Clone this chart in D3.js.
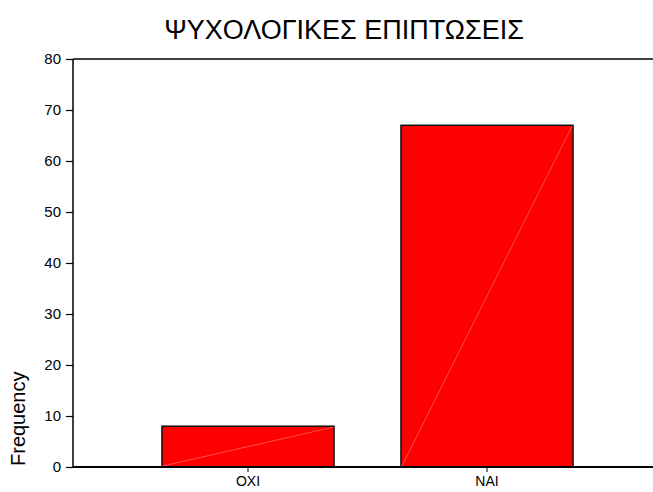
<!DOCTYPE html>
<html><head><meta charset="utf-8">
<script src="https://cdn.jsdelivr.net/npm/d3@7"></script>
<style>body{margin:0;background:#fff}svg{display:block}text{font-family:"Liberation Sans",Arial,sans-serif}</style>
</head><body>
<script>
const title = "ΨΥΧΟΛΟΓΙΚΕΣ ΕΠΙΠΤΩΣΕΙΣ";
const categories = ["OXI", "NAI"];
const values = [8, 67];
const yTicks = [0, 10, 20, 30, 40, 50, 60, 70, 80];
const yLabel = "Frequency";

const W = 653, H = 492;
const svg = d3.select("body").append("svg").attr("width", W).attr("height", H);
const pLeft = 73, pRight = 653, pTop = 59, pBottom = 467;

const y = d3.scaleLinear().domain([0, 80]).range([pBottom, pTop]);
const x = d3.scaleBand().domain(categories).range([128.5, 606.5]).paddingInner(0.28).paddingOuter(0.14);

svg.append("text").attr("x", 344).attr("y", 39).attr("text-anchor", "middle")
  .style("font-size", "27px").text(title);

// bars
const g = svg.append("g");
categories.forEach((c, i) => {
  const x0 = x(c), x1 = x(c) + x.bandwidth(), y0 = y(0), y1 = y(values[i]);
  g.append("rect").attr("x", x0).attr("y", y1).attr("width", x1 - x0).attr("height", y0 - y1)
    .attr("fill", "#ff0000").attr("stroke", "#111").attr("stroke-width", 1.5);
  g.append("line").attr("x1", x0 + 1).attr("y1", y0 - 1).attr("x2", x1 - 1).attr("y2", y1 + 1)
    .attr("stroke", "#ff7070").attr("stroke-width", 0.7);
});

// top frame line
svg.append("line").attr("x1", pLeft).attr("x2", pRight).attr("y1", pTop).attr("y2", pTop)
  .attr("stroke", "#000").attr("stroke-width", 1.5);

// y axis
const yAxis = svg.append("g").attr("transform", `translate(${pLeft},0)`)
  .call(d3.axisLeft(y).tickValues(yTicks).tickSize(7).tickPadding(5));
yAxis.select(".domain").attr("stroke", "#000").attr("stroke-width", 1.5).attr("d", `M0,${pTop}V${pBottom}`);
yAxis.selectAll(".tick line").attr("stroke", "#000").attr("stroke-width", 1.2);
yAxis.selectAll(".tick text").attr("fill", "#000").style("font-size", "15px")
  .style("font-family", "Liberation Sans, Arial, sans-serif");

// x axis
const xAxis = svg.append("g").attr("transform", `translate(0,${pBottom})`)
  .call(d3.axisBottom(x).tickSize(5).tickPadding(4));
xAxis.select(".domain").attr("stroke", "#000").attr("stroke-width", 1.8).attr("d", `M${pLeft},0H${pRight}`);
xAxis.selectAll(".tick line").attr("stroke", "#000").attr("stroke-width", 1);
xAxis.selectAll(".tick text").attr("fill", "#000").style("font-size", "14px")
  .style("font-family", "Liberation Sans, Arial, sans-serif");

svg.append("text").attr("transform", `translate(25,466) rotate(-90)`)
  .attr("text-anchor", "start").style("font-size", "20px").text(yLabel);
</script>
</body></html>
